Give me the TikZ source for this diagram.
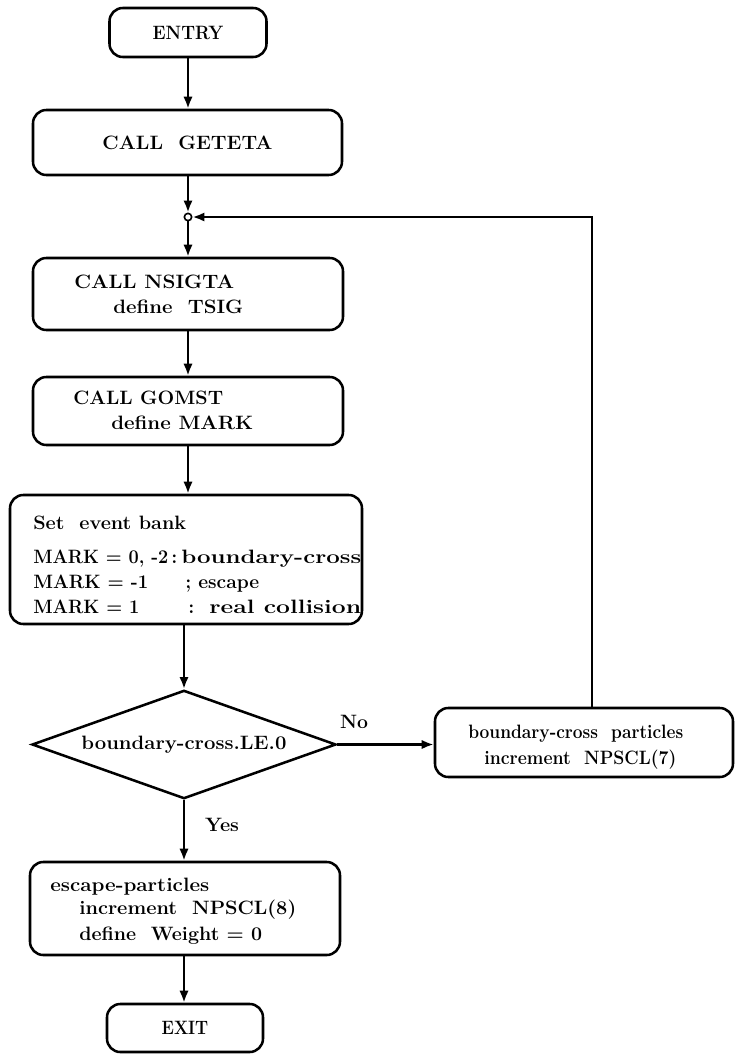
\documentclass[tikz,border=0pt]{standalone}
\usepackage{graphicx}
\usepackage{fontspec}
\setmainfont{Latin Modern Roman}
\usetikzlibrary{arrows.meta,shapes.geometric}

% set a line of text at its natural height, stretched to a given width
\newcommand{\fitto}[2]{\resizebox{#1}{\height}{#2}}

\begin{document}
\begin{tikzpicture}[x=0.75pt,y=-0.75pt,
  line width=1.9pt,
  flow/.style={draw, rounded corners=10pt, inner sep=0pt, font=\fontsize{14.5}{17}\selectfont\bfseries},
  txt/.style={anchor=base west, inner sep=0pt, font=\fontsize{14.5}{17}\selectfont\bfseries},
  tag/.style={inner sep=0pt, font=\fontsize{14.5}{17}\selectfont\bfseries},
  arr/.style={-{Latex[length=9pt,width=7pt]}},
]
\useasboundingbox (0,0) rectangle (736,1054);

% boxes of the main column
\node[flow, minimum width=117.75pt, minimum height=36.75pt] (entry) at (188,32.5) {\fitto{53pt}{ENTRY}};
\node[flow, minimum width=231.75pt, minimum height=48.75pt] (geteta) at (187.5,142.5) {\fitto{127.5pt}{CALL\ \ GETETA}};
\node[circle, draw, line width=1.2pt, inner sep=0pt, minimum size=5.5pt] (join) at (188,217) {};
\node[flow, minimum width=232.5pt, minimum height=54pt] (nsigta) at (188,294) {};
\node[flow, minimum width=232.5pt, minimum height=51pt] (gomst) at (188,411) {};
\node[flow, minimum width=264pt, minimum height=96.75pt] (bank) at (186,559.5) {};
\node[draw, diamond, aspect=2.25, inner sep=0pt, minimum width=228pt, font=\fontsize{14.5}{17}\selectfont\bfseries] (test) at (184,744.5) {\fitto{153.75pt}{boundary-cross.LE.0}};
\node[flow, minimum width=223.5pt, minimum height=51.75pt] (cross) at (584,742.5) {};
\node[flow, minimum width=232.5pt, minimum height=69.75pt] (esc) at (185,908.5) {};
\node[flow, minimum width=117pt, minimum height=36pt] (exit) at (185,1028) {\fitto{35pt}{EXIT}};

% texts inside the boxes
\node[txt] (t1) at (73,288.5) {\fitto{120pt}{CALL\ NSIGTA}};
\node[txt] (t2) at (112,313.5) {\fitto{97.5pt}{define\ \ TSIG}};
\node[txt] (t3) at (72,404.5) {\fitto{112.5pt}{CALL\ GOMST}};
\node[txt] (t4) at (110,429.5) {\fitto{106.5pt}{define\ MARK}};

\node[txt] (b0) at (32,529.5) {\fitto{114.75pt}{Set\ \ event bank}};
\node[txt] (b1a) at (32,563.5) {\fitto{101.25pt}{MARK = 0, -2}};
\node[txt] (b1b) at (170,563.5) {:};
\node[txt] (b1c) at (180,563.5) {\fitto{135pt}{boundary-cross}};
\node[txt] (b2a) at (32,588.5) {\fitto{86.25pt}{MARK = -1}};
\node[txt] (b2b) at (184,588.5) {;};
\node[txt] (b2c) at (197,588.5) {\fitto{45.75pt}{escape}};
\node[txt] (b3a) at (32,613.5) {\fitto{79.5pt}{MARK = 1}};
\node[txt] (b3b) at (187,613.5) {:};
\node[txt] (b3c) at (208,613.5) {\fitto{114pt}{real collision}};

\node[txt] (c1) at (467,738.5) {\fitto{161.25pt}{boundary-cross\ \ particles}};
\node[txt] (c2) at (483,764.5) {\fitto{144pt}{increment\ \ NPSCL(7)}};

\node[txt] (e1) at (49,891.5) {\fitto{119.25pt}{escape-particles}};
\node[txt] (e2) at (78,914.5) {\fitto{162.75pt}{increment\ \ NPSCL(8)}};
\node[txt] (e3) at (78,940.5) {\fitto{137.25pt}{define\ \ Weight = 0}};

% branch labels
\node[tag] (no) at (354,722) {\fitto{21pt}{No}};
\node[tag] (yes) at (222,825) {\fitto{25.5pt}{Yes}};

% connectors
\draw[arr] (entry.south) -- (entry.south |- geteta.north);
\draw[arr] (join.north |- geteta.south) -- (join.north);
\draw[arr] (join.south) -- (join.south |- nsigta.north);
\draw[arr] (join.south |- nsigta.south) -- (join.south |- gomst.north);
\draw[arr] (join.south |- gomst.south) -- (join.south |- bank.north);
\draw[arr] (test.north |- bank.south) -- (test.north);
\draw[arr] (test.east) -- (test.east -| cross.west);
\draw[arr] ([xshift=6pt]cross.north) |- (join.east);
\draw[arr] (test.south) -- (test.south |- esc.north);
\draw[arr] (test.south |- esc.south) -- (test.south |- exit.north);
\end{tikzpicture}
\end{document}
